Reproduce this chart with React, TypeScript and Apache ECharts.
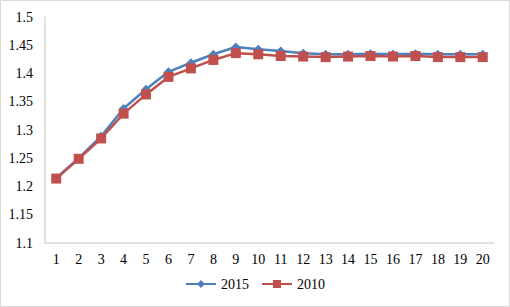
import React, { useEffect, useRef } from "react";
import * as echarts from "echarts";

const categories = ["1","2","3","4","5","6","7","8","9","10","11","12","13","14","15","16","17","18","19","20"];
const series2015 = [1.215, 1.250, 1.289, 1.338, 1.372, 1.403, 1.419, 1.434, 1.447, 1.443, 1.440, 1.436, 1.434, 1.434, 1.435, 1.434, 1.435, 1.434, 1.434, 1.434];
const series2010 = [1.214, 1.249, 1.285, 1.329, 1.363, 1.394, 1.409, 1.424, 1.436, 1.434, 1.431, 1.430, 1.429, 1.430, 1.431, 1.430, 1.431, 1.429, 1.429, 1.429];
const yTicks = { min: 1.1, max: 1.5, interval: 0.05 };

export default function App() {
  const ref = useRef<HTMLDivElement>(null);
  useEffect(() => {
    if (!ref.current) return;
    const chart = echarts.init(ref.current, null, { renderer: "svg" });
    const font = "'Liberation Serif', 'Times New Roman', serif";
    chart.setOption({
      animation: false,
      backgroundColor: "#ffffff",
      graphic: [
        {
          type: "rect",
          shape: { x: 0.5, y: 0.5, width: 509, height: 306 },
          style: { fill: "none", stroke: "#d9d9d9", lineWidth: 1 },
          silent: true,
        },
      ],
      grid: { left: 45, right: 16, top: 17, bottom: 64 },
      legend: {
        data: ["2015", "2010"],
        bottom: 11,
        left: "center",
        itemWidth: 30,
        itemHeight: 10,
        itemGap: 12,
        textStyle: { fontFamily: font, fontSize: 14, color: "#000" },
      },
      xAxis: {
        type: "category",
        data: categories,
        boundaryGap: true,
        axisLine: { show: true, lineStyle: { color: "#d9d9d9", width: 1.5 } },
        axisTick: { show: false },
        axisLabel: { fontFamily: font, fontSize: 14, color: "#000", margin: 9, interval: 0 },
        splitLine: { show: false },
      },
      yAxis: {
        type: "value",
        min: yTicks.min,
        max: yTicks.max,
        interval: yTicks.interval,
        axisLine: { show: true, lineStyle: { color: "#d9d9d9", width: 1.5 } },
        axisTick: { show: false },
        splitLine: { show: false },
        axisLabel: {
          fontFamily: font,
          fontSize: 14,
          color: "#000",
          margin: 12,
          formatter: (v: number) => String(parseFloat(v.toFixed(2))),
        },
      },
      series: [
        {
          name: "2015",
          type: "line",
          data: series2015,
          symbol: "diamond",
          symbolSize: 9,
          lineStyle: { color: "#4F81BD", width: 2.5 },
          itemStyle: { color: "#4F81BD" },
        },
        {
          name: "2010",
          type: "line",
          data: series2010,
          symbol: "rect",
          symbolSize: 10,
          lineStyle: { color: "#C0504D", width: 2.5 },
          itemStyle: { color: "#C0504D" },
        },
      ],
    });
    return () => chart.dispose();
  }, []);
  return (
    <div
      ref={ref}
      style={{ position: "fixed", left: 0, top: 0, width: 510, height: 307 }}
    />
  );
}
